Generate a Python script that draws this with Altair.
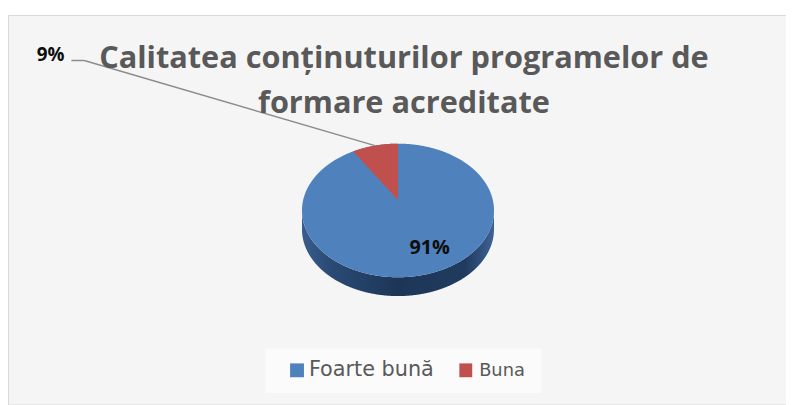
import math
import altair as alt

# ---- data ----
CATEGORIES = ["Foarte bună", "Buna"]
VALUES = [91, 9]
LABELS = ["91%", "9%"]
COLORS = ["#4F81BD", "#C0504D"]
TITLE_LINES = ["Calitatea conținuturilor programelor de", "formare acreditate"]

# ---- layout ----
W, H = 786, 397
total = sum(VALUES)

CX = 394.0     # pie centre x (svg px)
AY = 192.0     # pie centre y (apex of slices)
DT, DB = 57.0, 78.0   # apex -> far / near edge of the top face
RX = 97.0      # horizontal semi axis
SIDE = 19.0    # thickness of the 3D side
P = (DB - DT) / (DB + DT)
BY = DT * (1 + P)
AXR = RX * math.sqrt(1 - P * P)
EY = AY + (DB - DT) / 2
RY = (DT + DB) / 2


def proj(theta):
    u, v = math.sin(theta), math.cos(theta)
    return CX + AXR * u / (1 + P * v), AY - BY * v / (1 + P * v)


XP, YP = proj(2 * math.pi * VALUES[0] / total)
XM, YM = proj(2 * math.pi * (VALUES[0] + VALUES[1] / 2) / total)

xs = alt.Scale(domain=[0, W], nice=False, zero=False)
ys = alt.Scale(domain=[0, H], reverse=True, nice=False, zero=False)
one = alt.Data(values=[{}])


def seq():
    return alt.sequence(0, 1.0001, 0.002, as_="t")


bg = alt.Chart(one).mark_rect(fill="#f5f5f5", stroke="#d9d9d9", strokeWidth=1).encode(
    x=alt.value(0.5), x2=alt.value(W + 2), y=alt.value(5.5), y2=alt.value(H + 2)
)
legend_box = alt.Chart(one).mark_rect(fill="#fbfbfb").encode(
    x=alt.value(260), x2=alt.value(539), y=alt.value(342), y2=alt.value(387)
)

side_grad = alt.LinearGradient(
    gradient="linear", x1=0, x2=1, y1=0, y2=0,
    stops=[
        alt.GradientStop(offset=0, color="#3a5d8c"),
        alt.GradientStop(offset=0.15, color="#2a4a74"),
        alt.GradientStop(offset=0.5, color="#1d3658"),
        alt.GradientStop(offset=0.85, color="#203b5f"),
        alt.GradientStop(offset=1, color="#3d6394"),
    ],
)

side = alt.Chart(seq()).transform_calculate(
    x=f"{CX} - {RX}*cos(PI*datum.t)",
    yt=f"{EY} + {RY}*sin(PI*datum.t)",
).transform_calculate(
    yb=f"datum.yt + {SIDE}"
).mark_area(color=side_grad).encode(
    x=alt.X("x:Q", scale=xs, axis=None),
    y=alt.Y("yt:Q", scale=ys, axis=None),
    y2="yb:Q",
)

face = alt.Chart(seq()).transform_calculate(
    x=f"{CX} - {RX}*cos(PI*datum.t)",
    yt=f"{EY} - {RY}*sin(PI*datum.t)",
    yb=f"{EY} + {RY}*sin(PI*datum.t)",
).mark_area(color=COLORS[0]).encode(
    x=alt.X("x:Q", scale=xs, axis=None),
    y=alt.Y("yt:Q", scale=ys, axis=None),
    y2="yb:Q",
)

red = alt.Chart(seq()).transform_calculate(
    x=f"{XP} + {CX - XP}*datum.t"
).transform_calculate(
    yt=f"{EY} - {RY}*sqrt(max(0, 1 - pow((datum.x - {CX})/{RX}, 2)))",
    yb=f"{YP} + {AY - YP}*datum.t",
).mark_area(color=COLORS[1]).encode(
    x=alt.X("x:Q", scale=xs, axis=None),
    y=alt.Y("yt:Q", scale=ys, axis=None),
    y2="yb:Q",
)

lead1 = alt.Chart(one).mark_rule(color="#8c8c8c", strokeWidth=1.5).encode(
    x=alt.value(64), x2=alt.value(77), y=alt.value(51), y2=alt.value(51)
)
lead2 = alt.Chart(one).mark_rule(color="#8c8c8c", strokeWidth=1.5).encode(
    x=alt.value(77), x2=alt.value(XM), y=alt.value(51), y2=alt.value(YM)
)

lab_small = alt.Chart(alt.Data(values=[{"l": LABELS[1]}])).mark_text(
    font="Open Sans", fontWeight="bold", fontSize=19, color="#0d0d0d",
    align="left", baseline="alphabetic",
).encode(text="l:N", x=alt.value(29), y=alt.value(52))

lab_big = alt.Chart(alt.Data(values=[{"l": LABELS[0]}])).mark_text(
    font="Open Sans", fontWeight="bold", fontSize=20, color="#0d0d0d",
    align="center", baseline="alphabetic",
).encode(text="l:N", x=alt.value(426), y=alt.value(246))

title1 = alt.Chart(alt.Data(values=[{"l": TITLE_LINES[0]}])).mark_text(
    font="Open Sans", fontWeight="bold", fontSize=31, color="#595959",
    align="center", baseline="alphabetic",
).encode(text="l:N", x=alt.value(400), y=alt.value(59))
title2 = alt.Chart(alt.Data(values=[{"l": TITLE_LINES[1]}])).mark_text(
    font="Open Sans", fontWeight="bold", fontSize=31, color="#595959",
    align="center", baseline="alphabetic",
).encode(text="l:N", x=alt.value(400), y=alt.value(104))

sq1 = alt.Chart(one).mark_rect(color=COLORS[0]).encode(
    x=alt.value(285), x2=alt.value(299), y=alt.value(357), y2=alt.value(371)
)
sq2 = alt.Chart(one).mark_rect(color=COLORS[1]).encode(
    x=alt.value(456), x2=alt.value(469), y=alt.value(357), y2=alt.value(371)
)
leg1 = alt.Chart(alt.Data(values=[{"c": CATEGORIES[0]}])).mark_text(
    font="DejaVu Sans", fontSize=21, color="#595959", align="left", baseline="alphabetic"
).encode(text="c:N", x=alt.value(304), y=alt.value(370))
leg2 = alt.Chart(alt.Data(values=[{"c": CATEGORIES[1]}])).mark_text(
    font="DejaVu Sans", fontSize=18, color="#595959", align="left", baseline="alphabetic"
).encode(text="c:N", x=alt.value(476), y=alt.value(370))

chart = alt.layer(
    bg, legend_box, side, face, red, lead1, lead2,
    lab_small, lab_big, title1, title2, sq1, sq2, leg1, leg2,
).properties(
    width=W, height=H, padding=0,
    autosize=alt.AutoSizeParams(type="none"),
    background="white",
).configure_view(stroke=None)

chart.save("out.html", embed_options={"renderer": "svg", "actions": False})
